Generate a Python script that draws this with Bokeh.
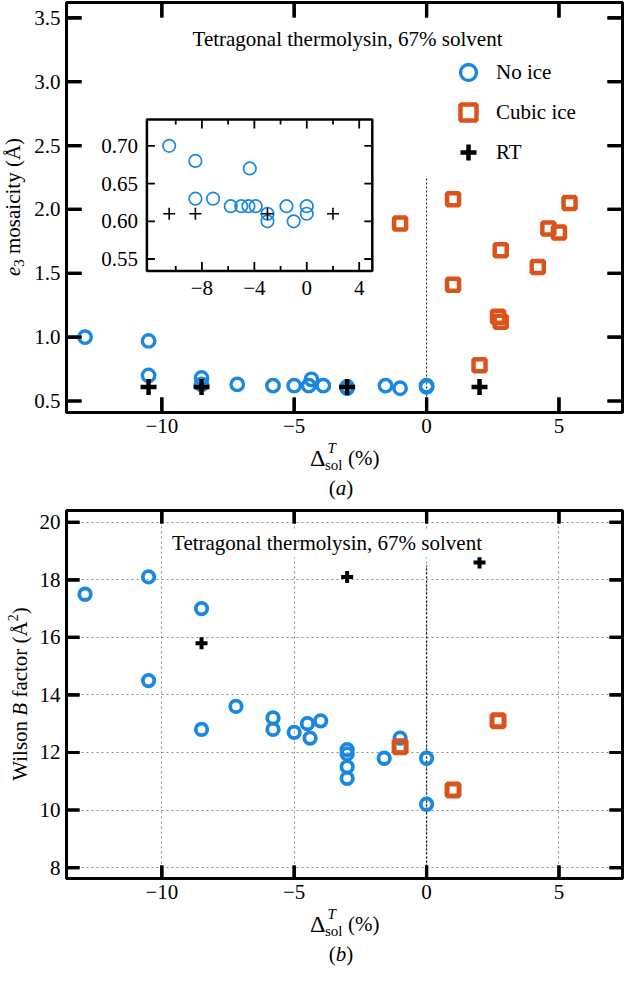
import numpy as np
from bokeh.plotting import figure
from bokeh.models import (Range1d, FixedTicker, Label, Legend, LegendItem, Div, BoxAnnotation,
                          CustomJSTickFormatter, NumeralTickFormatter)
from bokeh.layouts import column, row
from bokeh.embed import file_html
from bokeh.resources import INLINE
from bokeh.core.properties import value

FONT = "Liberation Serif"
BLUE = "#1a88e0"
ORANGE = "#d9531a"

# ---------------- data ----------------
title_text = "Tetragonal thermolysin, 67% solvent"
legend_labels = ["No ice", "Cubic ice", "RT"]

x_ticks = [-10, -5, 0, 5]
a_y_ticks = [0.5, 1.0, 1.5, 2.0, 2.5, 3.0, 3.5]
b_y_ticks = [8, 10, 12, 14, 16, 18, 20]
inset_x_major = [-8, -4, 0, 4]
inset_x_minor = [-10, -6, -2, 2]
inset_y_ticks = [0.55, 0.60, 0.65, 0.70]

# (a) e3 mosaicity
a_noice_x = [-12.9, -10.5, -10.5, -8.5, -8.5, -7.15, -5.8, -5.0, -4.45, -4.35, -3.9, -3.0, -3.0, -1.55, -1.0, 0.0, 0.0]
a_noice_y = [1.00, 0.97, 0.70, 0.68, 0.63, 0.63, 0.62, 0.62, 0.62, 0.67, 0.62, 0.61, 0.60, 0.62, 0.60, 0.62, 0.61]
a_cubic_x = [-1.0, 1.0, 1.0, 2.0, 2.7, 2.8, 2.8, 4.2, 4.6, 5.0, 5.4]
a_cubic_y = [1.89, 2.08, 1.41, 0.78, 1.16, 1.12, 1.68, 1.55, 1.85, 1.82, 2.05]
a_rt_x = [-10.5, -8.5, -3.0, 2.0]
a_rt_y = [0.61, 0.61, 0.61, 0.61]

# (b) Wilson B factor
b_noice_x = [-12.9, -10.5, -10.5, -8.5, -8.5, -7.2, -5.8, -5.8, -5.0, -4.5, -4.4, -4.0,
             -3.0, -3.0, -3.0, -3.0, -1.6, -1.0, 0.0, 0.0]
b_noice_y = [17.5, 18.1, 14.5, 17.0, 12.8, 13.6, 13.2, 12.8, 12.7, 13.0, 12.5, 13.1,
             12.1, 11.95, 11.5, 11.1, 11.8, 12.5, 11.8, 10.2]
b_cubic_x = [-1.0, 1.0, 2.7]
b_cubic_y = [12.2, 10.7, 13.1]
b_rt_x = [-8.5, -3.0, 2.0]
b_rt_y = [15.8, 18.1, 18.6]

# ---------------- layout constants ----------------
XR = (-13.6, 7.4)
A_YR = (0.41, 3.62)
B_YR = (7.62, 20.41)
FW = 556
A_FH = 410
B_FH = 368
A_YDIV_W = 31
B_YDIV_W = 36
BORDER_L = 24
BORDER_B = 30
FRAME_C = 341  # frame centre, px from the page content's left edge
INS_XLIM = (-12.2, 5.0)
INS_YLIM = (0.534, 0.735)
INS_PX = (80.4, 305.8, 116.9, 268.6)  # left, right, top, bottom (frame px)

XFMT = "return (tick < 0 ? '\u2212' : '') + Math.abs(tick).toFixed(0);"


def make_fig(yr, fh, yticks, yfmt, top):
    p = figure(frame_width=FW, frame_height=fh, x_range=Range1d(*XR), y_range=Range1d(*yr),
               output_backend="svg", toolbar_location=None,
               min_border_left=BORDER_L, min_border_right=2, min_border_top=top,
               min_border_bottom=BORDER_B)
    p.outline_line_color = "black"
    p.outline_line_width = 3
    xa, ya = p.below[0], p.left[0]
    xa.ticker = FixedTicker(ticks=x_ticks)
    xa.formatter = CustomJSTickFormatter(code=XFMT)
    ya.ticker = FixedTicker(ticks=yticks)
    ya.formatter = NumeralTickFormatter(format=yfmt)
    for ax in (xa, ya):
        ax.major_tick_in = 0
        ax.major_tick_out = 0
        ax.major_tick_line_color = None
        ax.minor_tick_line_color = None
        ax.axis_line_width = 3
        ax.axis_line_color = "black"
        ax.major_label_text_font = FONT
        ax.major_label_text_font_size = "21px"
        ax.major_label_text_color = "black"
        ax.axis_label = None
    xa.major_label_standoff = 6
    ya.major_label_standoff = 6
    return p


def add_ticks(p, yr, fh, yticks, tick_len):
    # inward ticks on all four sides, drawn from the tick lists
    ux = (XR[1] - XR[0]) / FW
    uy = (yr[1] - yr[0]) / fh
    hw = 1.6
    boxes = []
    for t in x_ticks:
        boxes.append((t - hw * ux, t + hw * ux, yr[0], yr[0] + tick_len * uy))
        boxes.append((t - hw * ux, t + hw * ux, yr[1] - tick_len * uy, yr[1]))
    for t in yticks:
        boxes.append((XR[0], XR[0] + tick_len * ux, t - hw * uy, t + hw * uy))
        boxes.append((XR[1] - tick_len * ux, XR[1], t - hw * uy, t + hw * uy))
    for (l, r, b, tp) in boxes:
        p.add_layout(BoxAnnotation(left=l, right=r, bottom=b, top=tp, fill_color="black",
                                   fill_alpha=1.0, line_alpha=0.0, level="overlay"))
    p.quad(left=[bx[0] for bx in boxes], right=[bx[1] for bx in boxes],
           bottom=[bx[2] for bx in boxes], top=[bx[3] for bx in boxes],
           fill_color="black", line_color=None)


def put(p, yr, fh, xpx, ypx, text, size, align="center", bg=None):
    ux = (XR[1] - XR[0]) / FW
    uy = (yr[1] - yr[0]) / fh
    lab = Label(x=XR[0] + xpx * ux, y=yr[0] + ypx * uy, text=text, text_font=FONT,
                text_font_size=f"{size}px", text_align=align, text_baseline="middle",
                text_color="black")
    if bg:
        lab.background_fill_color = bg
        lab.padding = 2
    p.add_layout(lab)


def span(left, base, fs, txt, italic=False):
    top = base - 0.8375 * fs
    st = "font-style:italic;" if italic else ""
    return (f'<span style="position:absolute;left:{left:.1f}px;top:{top:.1f}px;'
            f'font-size:{fs}px;line-height:{fs}px;white-space:nowrap;{st}">{txt}</span>')


def xlabel_div(caption):
    c = FRAME_C
    off = BORDER_B
    html = ('<div style="position:relative;width:624px;height:60px;'
            f"font-family:'{FONT}',serif;color:#000;\">"
            + span(c - 31.0, 54 - off, 24, "\u0394")
            + span(c - 13.5, 42.0 - off, 15, "T", italic=True)
            + span(c - 16.0, 58.5 - off, 15, "sol")
            + span(c + 7.0, 54 - off, 21, "(%)")
            + f'<div style="position:absolute;left:{c - FW / 2:.1f}px;width:{FW}px;'
              f'top:{84 - off - 17.6:.1f}px;text-align:center;font-size:21px;line-height:21px;">'
              f'(<i>{caption}</i>)</div>'
            + '</div>')
    return Div(text=html, width=624, height=60, margin=0)


def ylabel_div(inner, top_border, fh, width):
    total_h = top_border + fh + BORDER_B
    base_x = 21
    left = base_x - 0.8375 * 21
    html = ('<div style="position:relative;width:%dpx;height:%dpx;' % (width, total_h)
            + f"font-family:'{FONT}',serif;color:#000;\">"
            + f'<div style="position:absolute;left:{left:.1f}px;top:{top_border + fh}px;'
              f'width:{fh}px;transform-origin:0 0;transform:rotate(-90deg);'
              f'text-align:center;font-size:21px;line-height:21px;white-space:nowrap;">'
            + inner + '</div></div>')
    return Div(text=html, width=width, height=total_h, margin=0)


# ================= panel (a) =================
A_TOP = 2
p1 = make_fig(A_YR, A_FH, a_y_ticks, "0.0", A_TOP)
p1.grid.visible = False

p1.segment(x0=[0], y0=[A_YR[0]], x1=[0], y1=[2.26], line_color="#333333",
           line_width=1.2, line_dash="2 2")
add_ticks(p1, A_YR, A_FH, a_y_ticks, 15)

r_noice = p1.scatter(a_noice_x, a_noice_y, marker="circle", size=12.4, fill_color=None,
                     line_color=BLUE, line_width=3.4)
r_cubic = p1.scatter(a_cubic_x, a_cubic_y, marker="square", size=12, fill_color=None,
                     line_color=ORANGE, line_width=4.5)
r_rt = p1.scatter(a_rt_x, a_rt_y, marker="cross", size=16, line_color="black", line_width=4.5)

# inset (drawn through its own ranges)
sxu = (INS_XLIM[1] - INS_XLIM[0]) / (INS_PX[1] - INS_PX[0])
syu = (INS_YLIM[1] - INS_YLIM[0]) / (INS_PX[3] - INS_PX[2])
ix0 = INS_XLIM[0] - INS_PX[0] * sxu
iy0 = INS_YLIM[0] - (A_FH - INS_PX[3]) * syu
p1.extra_x_ranges = {"ix": Range1d(ix0, ix0 + FW * sxu)}
p1.extra_y_ranges = {"iy": Range1d(iy0, iy0 + A_FH * syu)}
IR = dict(x_range_name="ix", y_range_name="iy")

p1.quad(left=[INS_XLIM[0]], right=[INS_XLIM[1]], bottom=[INS_YLIM[0]], top=[INS_YLIM[1]],
        fill_color="white", line_color="black", line_width=2.5, **IR)

xlo, xhi = INS_XLIM
ylo, yhi = INS_YLIM
sx0, sy0, sx1, sy1 = [], [], [], []
for t, ln in [(t, 9) for t in inset_x_major] + [(t, 5) for t in inset_x_minor]:
    sx0 += [t, t]; sx1 += [t, t]
    sy0 += [ylo, yhi]; sy1 += [ylo + ln * syu, yhi - ln * syu]
for t in inset_y_ticks:
    sx0 += [xlo, xhi]; sx1 += [xlo + 8 * sxu, xhi - 8 * sxu]
    sy0 += [t, t]; sy1 += [t, t]
p1.segment(x0=sx0, y0=sy0, x1=sx1, y1=sy1, line_color="black", line_width=1.8, **IR)

p1.text(x=inset_x_major, y=[ylo - 10 * syu] * len(inset_x_major),
        text=[("\u2212" if t < 0 else "") + str(abs(t)) for t in inset_x_major],
        text_align="center", text_baseline="top", text_font=value(FONT),
        text_font_size="21px", text_color="black", **IR)
p1.text(x=[xlo - 9 * sxu] * len(inset_y_ticks), y=inset_y_ticks,
        text=[f"{t:.2f}" for t in inset_y_ticks],
        text_align="right", text_baseline="middle", text_font=value(FONT),
        text_font_size="21px", text_color="black", **IR)

nx, ny = np.array(a_noice_x), np.array(a_noice_y)
m = (nx >= xlo) & (nx <= xhi) & (ny >= ylo) & (ny <= yhi)
p1.scatter(nx[m], ny[m], marker="circle", size=12.5, fill_color=None, line_color=BLUE,
           line_width=1.7, **IR)
rx, ry = np.array(a_rt_x), np.array(a_rt_y)
mr = (rx >= xlo) & (rx <= xhi) & (ry >= ylo) & (ry <= yhi)
p1.scatter(rx[mr], ry[mr], marker="cross", size=12, line_color="black", line_width=1.6, **IR)

legend = Legend(items=[LegendItem(label=legend_labels[0], renderers=[r_noice]),
                       LegendItem(label=legend_labels[1], renderers=[r_cubic]),
                       LegendItem(label=legend_labels[2], renderers=[r_rt])],
                location=(382, 240), glyph_width=40, glyph_height=40, label_height=40,
                label_standoff=8, spacing=0, padding=0, margin=0,
                border_line_color=None, background_fill_alpha=0,
                label_text_font=FONT, label_text_font_size="21px", label_text_color="black")
p1.add_layout(legend)

put(p1, A_YR, A_FH, FW / 2 + 3, A_FH - 36.4, title_text, 21)

# ================= panel (b) =================
B_TOP = 8
p2 = make_fig(B_YR, B_FH, b_y_ticks, "0", B_TOP)
for g in (p2.xgrid[0], p2.ygrid[0]):
    g.grid_line_color = "#8c8c8c"
    g.grid_line_dash = "2 3"
    g.grid_line_width = 1
p2.xgrid[0].ticker = FixedTicker(ticks=x_ticks)
p2.ygrid[0].ticker = FixedTicker(ticks=b_y_ticks)

p2.segment(x0=[0], y0=[B_YR[0]], x1=[0], y1=[18.5], line_color="#111111",
           line_width=1.3, line_dash="2 2")
add_ticks(p2, B_YR, B_FH, b_y_ticks, 13)
put(p2, B_YR, B_FH, FW / 2 - 17.5, B_FH - 32.7, title_text, 21, bg="white")

p2.scatter(b_noice_x, b_noice_y, marker="circle", size=11.5, fill_color=None,
           line_color=BLUE, line_width=3.8)
p2.scatter(b_cubic_x, b_cubic_y, marker="square", size=12, fill_color=None,
           line_color=ORANGE, line_width=5)
p2.scatter(b_rt_x, b_rt_y, marker="cross", size=12, line_color="black", line_width=4)

# ================= labels & layout =================
ya1 = ylabel_div('<i>e</i><span style="font-size:15px;vertical-align:-4px;">3</span>'
                 ' mosaicity (\u00c5)', A_TOP, A_FH, A_YDIV_W)
ya2 = ylabel_div('Wilson <i>B</i> factor (\u00c5<span style="font-size:14px;'
                 'vertical-align:9px;">2</span>)', B_TOP, B_FH, B_YDIV_W)
xa1 = xlabel_div("a")
xa2 = xlabel_div("b")

layout = column(row(ya1, p1, spacing=0), xa1, row(ya2, p2, spacing=0), xa2, spacing=0)
open("out.html", "w").write(file_html(layout, INLINE))
